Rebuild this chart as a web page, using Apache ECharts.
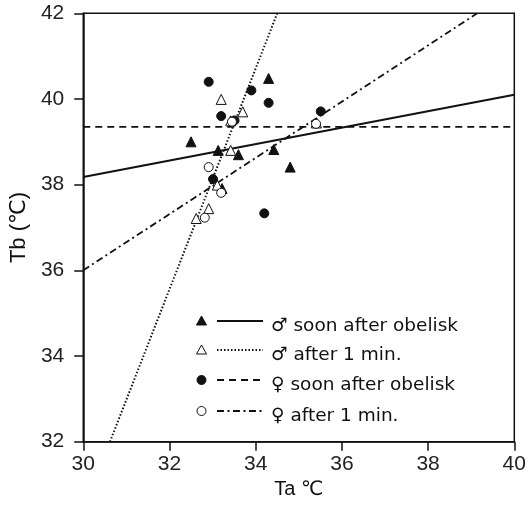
<!DOCTYPE html>
<html>
<head>
<meta charset="utf-8">
<script src="https://cdn.jsdelivr.net/npm/echarts@6/dist/echarts.min.js"></script>
<style>html,body{margin:0;padding:0;background:#fff}#c{width:530px;height:506px}</style>
</head>
<body>
<div id="c"></div>
<script>
// Data (Ta, Tb)
var maleSoon = [[32.5,39.0],[33.13,38.8],[33.6,38.7],[34.3,40.48],[34.42,38.82],[34.8,38.41],[33.22,37.91]];
var maleAfter = [[33.2,39.99],[33.7,39.7],[33.42,39.49],[33.42,38.8],[33.11,37.99],[32.91,37.44],[32.62,37.21],[35.41,39.44]];
var femaleSoon = [[32.91,40.4],[33.9,40.2],[34.3,39.91],[33.2,39.6],[33.51,39.5],[35.51,39.71],[33.01,38.13],[34.2,37.33]];
var femaleAfter = [[32.91,38.41],[33.2,37.81],[32.82,37.23],[33.45,39.47],[35.4,39.42]];
// Regression line endpoints
var maleSoonLine = [[30,38.18],[40,40.10]];
var maleAfterLine = [[30.62,32],[34.5,42]];
var femaleSoonLine = [[30,39.35],[40,39.35]];
var femaleAfterLine = [[30,36.0],[39.14,42]];
var xTicks = [30,32,34,36,38,40];
var yTicks = [32,34,36,38,40,42];
var legendLabels = ['\u2642 soon after obelisk','\u2642 after 1 min.','\u2640 soon after obelisk','\u2640 after 1 min.'];

var ink = '#111';
var font = '"Liberation Sans", "DejaVu Sans", Arial, sans-serif';
var lfont = '"DejaVu Sans", "Liberation Sans", sans-serif';
var chart = echarts.init(document.getElementById('c'), null, {renderer:'canvas'});

var legendRows = [321, 350, 380, 411];
var legendDash = ['solid', [1.5,2], [7,5], [7,3.5,2,3.5]];
var legendSymbols = ['triangle','triangle','circle','circle'];
var legendFilled = [true,false,true,false];
var graphics = [];
legendRows.forEach(function(y, i){
  var sym;
  if (legendSymbols[i] === 'triangle') {
    sym = {type:'polygon', shape:{points:[[201.5,y-5],[206.5,y+4],[196.5,y+4]]},
      style:{fill: legendFilled[i]?ink:'#fff', stroke: ink, lineWidth:1}};
  } else {
    sym = {type:'circle', shape:{cx:201.5, cy:y, r:4.5},
      style:{fill: legendFilled[i]?ink:'#fff', stroke: ink, lineWidth:1}};
  }
  graphics.push(sym);
  graphics.push({type:'line', shape:{x1:217,y1:y,x2:263,y2:y},
    style:{stroke:ink, lineWidth:2, lineDash: legendDash[i]==='solid'?null:legendDash[i]}});
  graphics.push({type:'text', x:271, y:y+5,
    style:{text:legendLabels[i], fill:ink, font:'18.5px '+lfont, textVerticalAlign:'middle', verticalAlign:'middle'}});
});

function scatter(name, data, symbol, filled) {
  return {name:name, type:'scatter', data:data, symbol:symbol, symbolSize: symbol==='triangle'?10:9,
    itemStyle:{color: filled?ink:'#fff', borderColor: ink, borderWidth: 1, opacity:1}, z:3};
}
function line(name, data, dash, w) {
  return {name:name, type:'line', data:data, symbol:'none', silent:true,
    lineStyle:{color:ink, width:w, type:dash}, z:2};
}

chart.setOption({
  animation:false,
  backgroundColor:'#fff',
  grid:{left:81.5, right:15.7, top:13.3, bottom:64.3, show:true, borderColor:ink, borderWidth:1.5, backgroundColor:'transparent'},
  xAxis:{type:'value', min:xTicks[0], max:xTicks[xTicks.length-1], interval:2,
    name:'Ta \u2103', nameLocation:'middle', nameGap:36,
    nameTextStyle:{color:ink, fontSize:20, fontFamily:font},
    axisLine:{lineStyle:{color:ink, width:1.5}},
    axisTick:{show:true, inside:false, length:9, lineStyle:{color:ink, width:1.5}},
    axisLabel:{color:'#222', fontSize:21, fontFamily:font, margin:12},
    splitLine:{show:false}},
  yAxis:{type:'value', min:yTicks[0], max:yTicks[yTicks.length-1], interval:2,
    name:'Tb (\u2103)', nameLocation:'middle', nameGap:48,
    nameTextStyle:{color:ink, fontSize:22, fontFamily:font},
    axisLine:{lineStyle:{color:ink, width:1.5}},
    axisTick:{show:true, inside:false, length:9, lineStyle:{color:ink, width:1.5}},
    axisLabel:{color:'#222', fontSize:21, fontFamily:font, margin:19},
    splitLine:{show:false}},
  graphic: graphics,
  series:[
    line('male soon line', maleSoonLine, 'solid', 2),
    line('male after line', maleAfterLine, [1.5,2], 2),
    line('female soon line', femaleSoonLine, [7,5], 1.8),
    line('female after line', femaleAfterLine, [7,3.5,2,3.5], 1.8),
    scatter('male soon', maleSoon, 'triangle', true),
    scatter('male after', maleAfter, 'triangle', false),
    scatter('female soon', femaleSoon, 'circle', true),
    scatter('female after', femaleAfter, 'circle', false)
  ]
});
</script>
</body>
</html>
